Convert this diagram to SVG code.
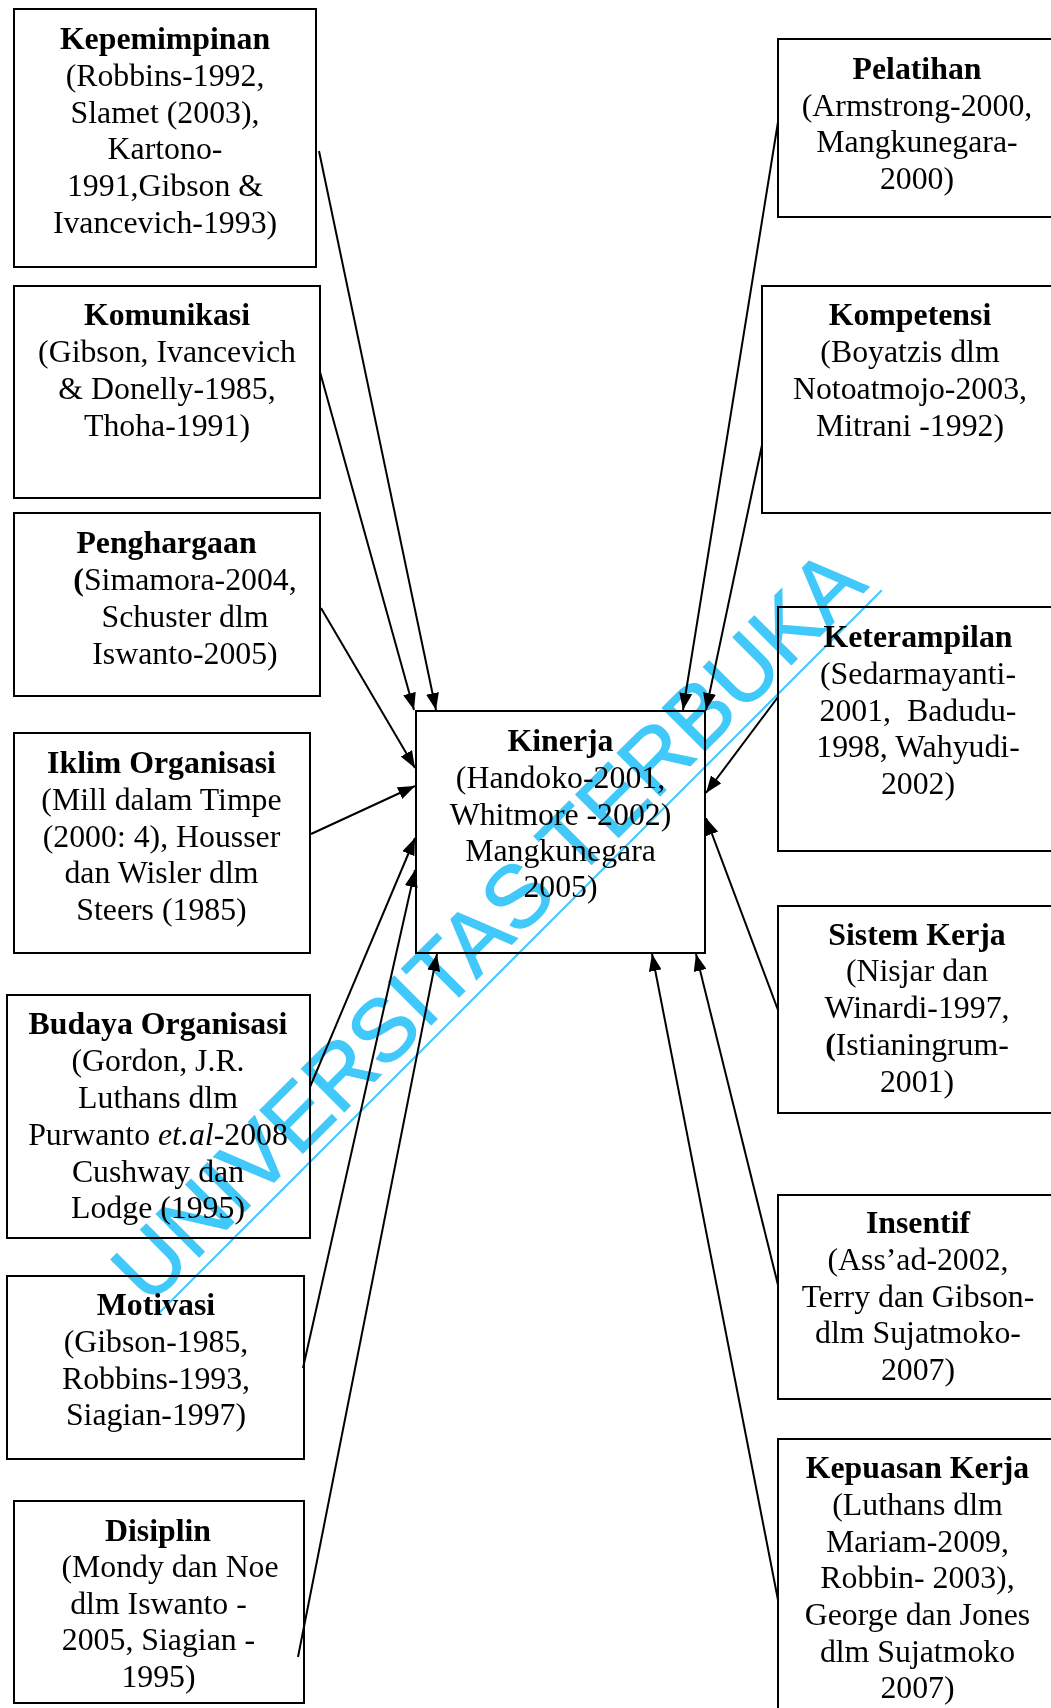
<svg xmlns="http://www.w3.org/2000/svg" width="1051" height="1708" viewBox="0 0 1051 1708">
<style>
.box{fill:#fff;stroke:#000;stroke-width:2}
.t{font-family:"Liberation Serif","Times New Roman",serif;font-size:31.8px;fill:#000;text-anchor:middle}
.b{font-weight:bold}
.i{font-style:italic}
.con line{stroke:#000;stroke-width:2;marker-end:url(#ah)}
.wm{mix-blend-mode:multiply}
</style>
<defs>
<marker id="ah" viewBox="0 0 17 13" refX="17" refY="6.5" markerWidth="17" markerHeight="13" markerUnits="userSpaceOnUse" orient="auto">
<path d="M0,0 L17,6.5 L0,13 Z" fill="#000"/>
</marker>
</defs>
<rect width="1051" height="1708" fill="#fff"/>

<g id="kepemimpinan">
<rect class="box" x="14" y="9" width="302" height="258"/>
<text class="t b" x="165" y="49">Kepemimpinan</text>
<text class="t" x="165" y="86">(Robbins-1992,</text>
<text class="t" x="165" y="123">Slamet (2003),</text>
<text class="t" x="165" y="159">Kartono-</text>
<text class="t" x="165" y="196">1991,Gibson &amp;</text>
<text class="t" x="165" y="233">Ivancevich-1993)</text>
</g>

<g id="komunikasi">
<rect class="box" x="14" y="286" width="306" height="212"/>
<text class="t b" x="167" y="325">Komunikasi</text>
<text class="t" x="167" y="362">(Gibson, Ivancevich</text>
<text class="t" x="167" y="399">&amp; Donelly-1985,</text>
<text class="t" x="167" y="436">Thoha-1991)</text>
</g>

<g id="penghargaan">
<rect class="box" x="14" y="513" width="306" height="183"/>
<text class="t b" x="166.5" y="553">Penghargaan</text>
<text class="t" x="185" y="590"><tspan class="b">(</tspan>Simamora-2004,</text>
<text class="t" x="185" y="627">Schuster dlm</text>
<text class="t" x="185" y="664">Iswanto-2005)</text>
</g>

<g id="iklim-organisasi">
<rect class="box" x="14" y="733" width="296" height="220"/>
<text class="t b" x="161.5" y="773">Iklim Organisasi</text>
<text class="t" x="161.5" y="810">(Mill dalam Timpe</text>
<text class="t" x="161.5" y="847">(2000: 4), Housser</text>
<text class="t" x="161.5" y="883">dan Wisler dlm</text>
<text class="t" x="161.5" y="920">Steers (1985)</text>
</g>

<g id="budaya-organisasi">
<rect class="box" x="7" y="995" width="303" height="243"/>
<text class="t b" x="158" y="1034">Budaya Organisasi</text>
<text class="t" x="158" y="1071">(Gordon, J.R.</text>
<text class="t" x="158" y="1108">Luthans dlm</text>
<text class="t" x="158" y="1145">Purwanto <tspan class="i">et.al</tspan>-2008</text>
<text class="t" x="158" y="1182">Cushway dan</text>
<text class="t" x="158" y="1218">Lodge (1995)</text>
</g>

<g id="motivasi">
<rect class="box" x="7" y="1276" width="297" height="183"/>
<text class="t b" x="156" y="1315">Motivasi</text>
<text class="t" x="156" y="1352">(Gibson-1985,</text>
<text class="t" x="156" y="1389">Robbins-1993,</text>
<text class="t" x="156" y="1425">Siagian-1997)</text>
</g>

<g id="disiplin">
<rect class="box" x="14" y="1501" width="290" height="202"/>
<text class="t b" x="158" y="1541">Disiplin</text>
<text class="t" x="170" y="1577">(Mondy dan Noe</text>
<text class="t" x="158.5" y="1614">dlm Iswanto -</text>
<text class="t" x="158.5" y="1650">2005, Siagian -</text>
<text class="t" x="158.5" y="1687">1995)</text>
</g>

<g id="kinerja">
<rect class="box" x="416" y="711" width="289" height="242"/>
<text class="t b" x="560.5" y="751">Kinerja</text>
<text class="t" x="560.5" y="788">(Handoko-2001,</text>
<text class="t" x="560.5" y="825">Whitmore -2002)</text>
<text class="t" x="560.5" y="861">Mangkunegara</text>
<text class="t" x="560.5" y="897">2005)</text>
</g>

<g id="pelatihan">
<rect class="box" x="778" y="39" width="290" height="178"/>
<text class="t b" x="917" y="79">Pelatihan</text>
<text class="t" x="917" y="116">(Armstrong-2000,</text>
<text class="t" x="917" y="152">Mangkunegara-</text>
<text class="t" x="917" y="189">2000)</text>
</g>

<g id="kompetensi">
<rect class="box" x="762" y="286" width="306" height="227"/>
<text class="t b" x="910" y="325">Kompetensi</text>
<text class="t" x="910" y="362">(Boyatzis dlm</text>
<text class="t" x="910" y="399">Notoatmojo-2003,</text>
<text class="t" x="910" y="436">Mitrani -1992)</text>
</g>

<g id="keterampilan">
<rect class="box" x="778" y="607" width="290" height="244"/>
<text class="t b" x="918" y="647">Keterampilan</text>
<text class="t" x="918" y="684">(Sedarmayanti-</text>
<text class="t" x="918" y="721">2001,&#160; Badudu-</text>
<text class="t" x="918" y="757">1998, Wahyudi-</text>
<text class="t" x="918" y="794">2002)</text>
</g>

<g id="sistem-kerja">
<rect class="box" x="778" y="906" width="290" height="207"/>
<text class="t b" x="917" y="945">Sistem Kerja</text>
<text class="t" x="917" y="981">(Nisjar dan</text>
<text class="t" x="917" y="1018">Winardi-1997,</text>
<text class="t" x="917" y="1055"><tspan class="b">(</tspan>Istianingrum-</text>
<text class="t" x="917" y="1092">2001)</text>
</g>

<g id="insentif">
<rect class="box" x="778" y="1195" width="290" height="204"/>
<text class="t b" x="918" y="1233">Insentif</text>
<text class="t" x="918" y="1270">(Ass’ad-2002,</text>
<text class="t" x="918" y="1307">Terry dan Gibson-</text>
<text class="t" x="918" y="1343">dlm Sujatmoko-</text>
<text class="t" x="918" y="1380">2007)</text>
</g>

<g id="kepuasan-kerja">
<rect class="box" x="778" y="1439" width="290" height="290"/>
<text class="t b" x="917.5" y="1478">Kepuasan Kerja</text>
<text class="t" x="917.5" y="1515">(Luthans dlm</text>
<text class="t" x="917.5" y="1552">Mariam-2009,</text>
<text class="t" x="917.5" y="1588">Robbin- 2003),</text>
<text class="t" x="917.5" y="1625">George dan Jones</text>
<text class="t" x="917.5" y="1662">dlm Sujatmoko</text>
<text class="t" x="917.5" y="1698">2007)</text>
</g>

<g id="connectors" class="con">
<line x1="319" y1="151" x2="436" y2="710"/>
<line x1="320" y1="372" x2="414" y2="710"/>
<line x1="321" y1="608" x2="415" y2="768"/>
<line x1="311" y1="834" x2="415" y2="786"/>
<line x1="310" y1="1087" x2="415" y2="838"/>
<line x1="303" y1="1368" x2="415" y2="870"/>
<line x1="298" y1="1657" x2="437" y2="954"/>
<line x1="778" y1="122" x2="683" y2="710"/>
<line x1="762" y1="445" x2="706" y2="710"/>
<line x1="778" y1="697" x2="706" y2="793"/>
<line x1="778" y1="1010" x2="706" y2="818"/>
<line x1="778" y1="1285" x2="696" y2="954"/>
<line x1="778" y1="1600" x2="652" y2="954"/>
</g>

<g id="watermark" class="wm" transform="translate(149,1307) rotate(-45)">
<text x="0" y="0" font-family="'Liberation Sans',Arial,sans-serif" font-size="88" fill="#40c9fa" stroke="#40c9fa" stroke-width="1.2">UNIVERSITAS TERBUKA</text>
<line x1="0" y1="11.3" x2="1025" y2="11.3" stroke="#40c9fa" stroke-width="2"/>
</g>
</svg>
